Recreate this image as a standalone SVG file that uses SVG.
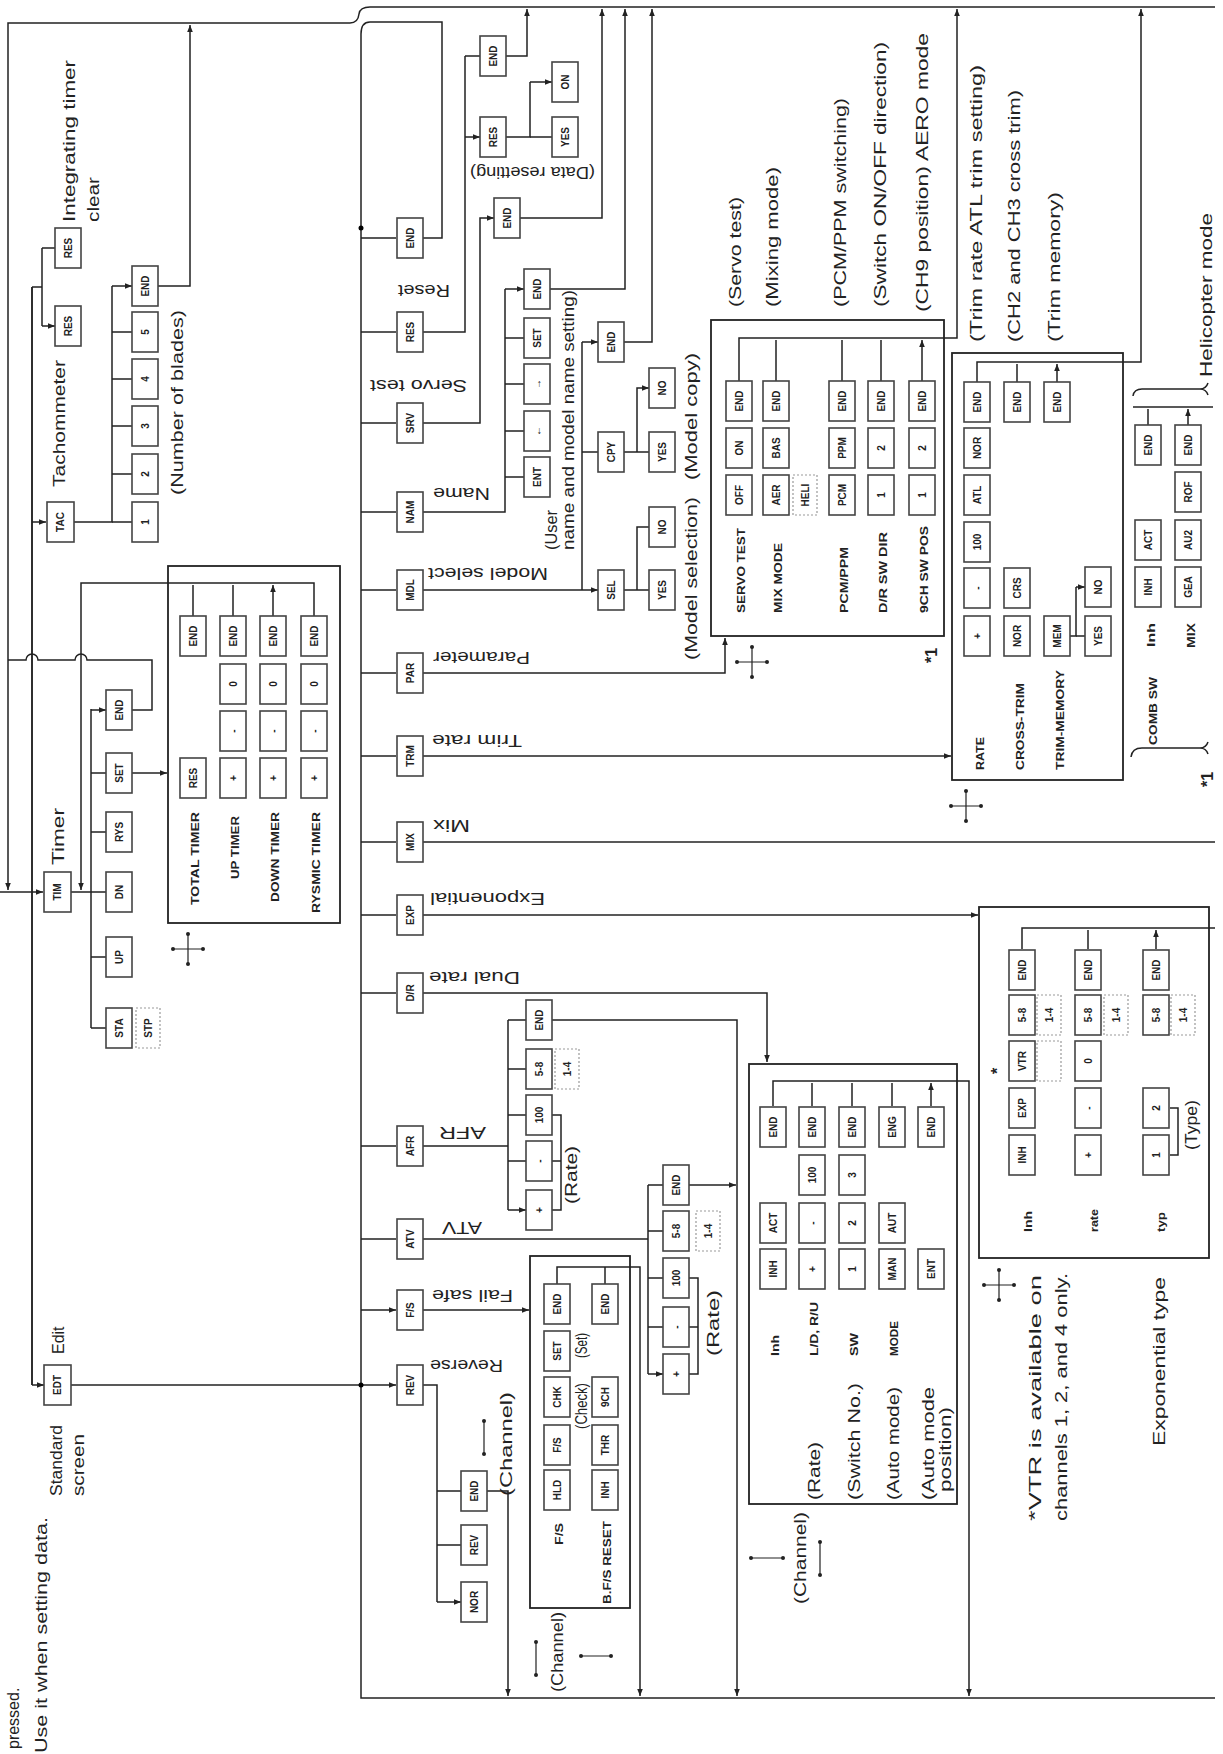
<svg xmlns="http://www.w3.org/2000/svg" width="1223" height="1754" viewBox="0 0 1223 1754">
<style>
.l{fill:none;stroke:#222;stroke-width:1.5}
.la{fill:none;stroke:#222;stroke-width:1.5;marker-end:url(#a)}
.bx rect,rect.bx{fill:#fff;stroke:#444;stroke-width:1.6}
rect.d{fill:none;stroke:#999;stroke-width:1.2;stroke-dasharray:2 2}
rect.p{fill:none;stroke:#222;stroke-width:1.8}
.bt{font-family:"Liberation Sans Narrow","Liberation Sans",sans-serif;font-weight:bold;font-size:10px;text-anchor:middle;dominant-baseline:central;fill:#222}
.t{font-family:"Liberation Sans",sans-serif;font-size:16px;fill:#222}
.s{font-family:"Liberation Sans Narrow","Liberation Sans",sans-serif;font-weight:bold;font-size:11px;fill:#222}
.cr{fill:none;stroke:#222;stroke-width:1.2}
</style>
<defs>
<marker id="a" viewBox="0 0 10 10" refX="10" refY="5" markerWidth="8" markerHeight="7" markerUnits="userSpaceOnUse" orient="auto"><path d="M0,1L10,5L0,9z" fill="#222"/></marker>
<g id="cross"><path class="cr" d="M-15,0H15M0,-15V15"/><circle cx="-15" cy="0" r="2"/><circle cx="15" cy="0" r="2"/><circle cx="0" cy="-15" r="2"/><circle cx="0" cy="15" r="2"/></g>
</defs>
<rect width="1223" height="1754" fill="#fff"/>

<g id="connectors">
<path class="la" d="M350,23H8V890"/>
<path class="l" d="M350,23Q358,23 359,14Q360,7 370,7H1215"/>
<path class="l" d="M423,238H442V22H370Q361,22 361,34V1698H1215"/>
<path class="la" d="M361,238H396M361,332H396M361,423H396M361,512H396M361,590H396M361,673H396M361,756H396M361,842H396M361,915H396M361,993H396M361,1146H396M361,1239H396M361,1310H396"/>
<path class="la" d="M71,1385H396"/>
<circle cx="361" cy="228" r="2.5"/><circle cx="361" cy="1385" r="2.5"/>
<path class="la" d="M32,1385V287M32,1385H44"/>
<path class="l" d="M32,287V1385"/>
<path class="la" d="M0,892H43"/>
<path class="l" d="M71,892H91M91,709V1028"/>
<path class="la" d="M91,1028H106M91,957H106M91,892H106M91,832H106M91,773H106M91,710H106"/>
<path class="la" d="M132,773H167"/>
<path class="l" d="M132,710H152V660H87A6,6 0 0 0 75,660H38A6,6 0 0 0 26,660H8"/>
<path class="la" d="M314,616V583H81V890"/>
<path class="la" d="M193,616V585M233,616V585M273,616V585"/>
<path class="la" d="M32,522H46"/>
<path class="l" d="M74,522H112V286"/>
<path class="la" d="M112,522H132M112,474H132M112,426H132M112,379H132M112,332H132M112,286H132"/>
<path class="la" d="M158,286H190V25"/>
<path class="l" d="M32,287H42M42,248V326"/>
<path class="la" d="M42,248H55M42,326H55"/>
<path class="l" d="M423,332H465V56"/>
<path class="la" d="M465,56H480M465,137H480"/>
<path class="l" d="M506,137H530V82"/>
<path class="la" d="M530,137H552M530,82H552"/>
<path class="la" d="M506,56H527V9"/>
<path class="la" d="M423,423H480V218H494"/>
<path class="la" d="M520,218H602V9"/>
<path class="l" d="M423,512H505V289"/>
<path class="la" d="M505,477H524M505,431H524M505,384H524M505,338H524M505,289H524"/>
<path class="la" d="M550,289H625V9"/>
<path class="la" d="M423,590H598"/>
<path class="l" d="M582,590V342"/>
<path class="la" d="M582,452H598M582,342H598"/>
<path class="la" d="M624,342H652V9"/>
<path class="la" d="M624,590H649M637,590V527H649M624,452H649M637,452V388H649"/>
<path class="la" d="M423,673H725V638"/>
<path class="la" d="M739,381V338H957V9"/>
<path class="la" d="M776,381V340M842,381V340M881,381V340M922,381V340"/>
<path class="la" d="M423,756H951"/>
<path class="la" d="M977,383V362H1141V9"/>
<path class="la" d="M1017,383V364M1057,383V364"/>
<path class="l" d="M1070,636H1076V587"/>
<path class="la" d="M1076,636H1085M1076,587H1085"/>
<path class="l" d="M1133,407H1213"/>
<path class="la" d="M1148,425V409M1188,425V409"/>
<path class="l" d="M423,842H1215"/>
<path class="la" d="M423,915H978"/>
<path class="l" d="M1022,949V928H1215"/>
<path class="la" d="M1088,949V930M1156,949V930"/>
<path class="la" d="M423,993H767V1062"/>
<path class="la" d="M773,1106V1081H969V1696"/>
<path class="la" d="M812,1106V1083M852,1106V1083M892,1106V1083M931,1106V1083"/>
<path class="l" d="M423,1146H508M508,1020V1210"/>
<path class="la" d="M508,1020H526M508,1069H526M508,1115H526M508,1161H526M508,1210H526"/>
<path class="la" d="M552,1020H737V1696"/>
<path class="l" d="M552,1210H561V1115H552M552,1161H561"/>
<path class="l" d="M423,1239H648M648,1185V1374"/>
<path class="la" d="M648,1185H663M648,1231H663M648,1278H663M648,1327H663M648,1374H663"/>
<path class="la" d="M689,1185H736"/>
<path class="l" d="M689,1374H698V1278H689M689,1327H698"/>
<path class="la" d="M423,1310H529"/>
<path class="la" d="M557,1284V1267H640V1696"/>
<path class="l" d="M605,1284V1267"/>
<path class="l" d="M423,1385H437V1602"/>
<path class="la" d="M437,1491H461M437,1545H461M437,1602H461"/>
<path class="la" d="M487,1491H508V1696"/>
<path class="l" d="M1170,1155H1178V1108H1170"/>
</g>

<g id="panels">
<rect class="p" x="168" y="566" width="172" height="357"/>
<rect class="p" x="711" y="320" width="233" height="316"/>
<rect class="p" x="952" y="353" width="171" height="427"/>
<rect class="p" x="979" y="907" width="230" height="351"/>
<rect class="p" x="749" y="1064" width="208" height="440"/>
<rect class="p" x="530" y="1256" width="100" height="352"/>
</g>

<g id="boxes">
<g id="n_end_reset" class="bx"><rect x="397" y="218" width="26" height="40"/><text class="bt" transform="translate(410,238) rotate(-90)">END</text></g>
<g id="n_res" class="bx"><rect x="397" y="312" width="26" height="40"/><text class="bt" transform="translate(410,332) rotate(-90)">RES</text></g>
<g id="n_srv" class="bx"><rect x="397" y="403" width="26" height="40"/><text class="bt" transform="translate(410,423) rotate(-90)">SRV</text></g>
<g id="n_nam" class="bx"><rect x="397" y="492" width="26" height="40"/><text class="bt" transform="translate(410,512) rotate(-90)">NAM</text></g>
<g id="n_mdl" class="bx"><rect x="397" y="570" width="26" height="40"/><text class="bt" transform="translate(410,590) rotate(-90)">MDL</text></g>
<g id="n_par" class="bx"><rect x="397" y="653" width="26" height="40"/><text class="bt" transform="translate(410,673) rotate(-90)">PAR</text></g>
<g id="n_trm" class="bx"><rect x="397" y="736" width="26" height="40"/><text class="bt" transform="translate(410,756) rotate(-90)">TRM</text></g>
<g id="n_mix" class="bx"><rect x="397" y="822" width="26" height="40"/><text class="bt" transform="translate(410,842) rotate(-90)">MIX</text></g>
<g id="n_exp" class="bx"><rect x="397" y="895" width="26" height="40"/><text class="bt" transform="translate(410,915) rotate(-90)">EXP</text></g>
<g id="n_dr" class="bx"><rect x="397" y="973" width="26" height="40"/><text class="bt" transform="translate(410,993) rotate(-90)">D/R</text></g>
<g id="n_afr" class="bx"><rect x="397" y="1126" width="26" height="40"/><text class="bt" transform="translate(410,1146) rotate(-90)">AFR</text></g>
<g id="n_atv" class="bx"><rect x="397" y="1219" width="26" height="40"/><text class="bt" transform="translate(410,1239) rotate(-90)">ATV</text></g>
<g id="n_fs" class="bx"><rect x="397" y="1290" width="26" height="40"/><text class="bt" transform="translate(410,1310) rotate(-90)">F/S</text></g>
<g id="n_rev" class="bx"><rect x="397" y="1365" width="26" height="40"/><text class="bt" transform="translate(410,1385) rotate(-90)">REV</text></g>
<g id="n_edt" class="bx"><rect x="44" y="1365" width="27" height="40"/><text class="bt" transform="translate(57,1385) rotate(-90)">EDT</text></g>
<g id="n_tim" class="bx"><rect x="44" y="872" width="27" height="40"/><text class="bt" transform="translate(57,892) rotate(-90)">TIM</text></g>
<g id="n_tac" class="bx"><rect x="47" y="502" width="27" height="40"/><text class="bt" transform="translate(60,522) rotate(-90)">TAC</text></g>
<g id="n_res1" class="bx"><rect x="55" y="228" width="26" height="40"/><text class="bt" transform="translate(68,248) rotate(-90)">RES</text></g>
<g id="n_res2" class="bx"><rect x="55" y="306" width="26" height="40"/><text class="bt" transform="translate(68,326) rotate(-90)">RES</text></g>
<g id="n_t1" class="bx"><rect x="132" y="502" width="26" height="40"/><text class="bt" transform="translate(145,522) rotate(-90)">1</text></g>
<g id="n_t2" class="bx"><rect x="132" y="454" width="26" height="40"/><text class="bt" transform="translate(145,474) rotate(-90)">2</text></g>
<g id="n_t3" class="bx"><rect x="132" y="406" width="26" height="40"/><text class="bt" transform="translate(145,426) rotate(-90)">3</text></g>
<g id="n_t4" class="bx"><rect x="132" y="359" width="26" height="40"/><text class="bt" transform="translate(145,379) rotate(-90)">4</text></g>
<g id="n_t5" class="bx"><rect x="132" y="312" width="26" height="40"/><text class="bt" transform="translate(145,332) rotate(-90)">5</text></g>
<g id="n_tend" class="bx"><rect x="132" y="266" width="26" height="40"/><text class="bt" transform="translate(145,286) rotate(-90)">END</text></g>
<g id="n_sta" class="bx"><rect x="106" y="1008" width="26" height="40"/><text class="bt" transform="translate(119,1028) rotate(-90)">STA</text></g>
<g id="n_stp"><rect class="d" x="136" y="1008" width="24" height="40"/><text class="bt" transform="translate(148,1028) rotate(-90)">STP</text></g>
<g id="n_up" class="bx"><rect x="106" y="937" width="26" height="40"/><text class="bt" transform="translate(119,957) rotate(-90)">UP</text></g>
<g id="n_dn" class="bx"><rect x="106" y="872" width="26" height="40"/><text class="bt" transform="translate(119,892) rotate(-90)">DN</text></g>
<g id="n_rys" class="bx"><rect x="106" y="812" width="26" height="40"/><text class="bt" transform="translate(119,832) rotate(-90)">RYS</text></g>
<g id="n_set" class="bx"><rect x="106" y="753" width="26" height="40"/><text class="bt" transform="translate(119,773) rotate(-90)">SET</text></g>
<g id="n_timend" class="bx"><rect x="106" y="690" width="26" height="40"/><text class="bt" transform="translate(119,710) rotate(-90)">END</text></g>
<g id="n_tt_res" class="bx"><rect x="180" y="758" width="26" height="40"/><text class="bt" transform="translate(193,778) rotate(-90)">RES</text></g>
<g id="n_tt_end" class="bx"><rect x="180" y="616" width="26" height="40"/><text class="bt" transform="translate(193,636) rotate(-90)">END</text></g>
<g id="n_ut_p" class="bx"><rect x="220" y="758" width="26" height="40"/><text class="bt" transform="translate(233,778) rotate(-90)">+</text></g>
<g id="n_ut_m" class="bx"><rect x="220" y="711" width="26" height="40"/><text class="bt" transform="translate(233,731) rotate(-90)">-</text></g>
<g id="n_ut_0" class="bx"><rect x="220" y="664" width="26" height="40"/><text class="bt" transform="translate(233,684) rotate(-90)">0</text></g>
<g id="n_ut_e" class="bx"><rect x="220" y="616" width="26" height="40"/><text class="bt" transform="translate(233,636) rotate(-90)">END</text></g>
<g id="n_dt_p" class="bx"><rect x="260" y="758" width="26" height="40"/><text class="bt" transform="translate(273,778) rotate(-90)">+</text></g>
<g id="n_dt_m" class="bx"><rect x="260" y="711" width="26" height="40"/><text class="bt" transform="translate(273,731) rotate(-90)">-</text></g>
<g id="n_dt_0" class="bx"><rect x="260" y="664" width="26" height="40"/><text class="bt" transform="translate(273,684) rotate(-90)">0</text></g>
<g id="n_dt_e" class="bx"><rect x="260" y="616" width="26" height="40"/><text class="bt" transform="translate(273,636) rotate(-90)">END</text></g>
<g id="n_rt_p" class="bx"><rect x="301" y="758" width="26" height="40"/><text class="bt" transform="translate(314,778) rotate(-90)">+</text></g>
<g id="n_rt_m" class="bx"><rect x="301" y="711" width="26" height="40"/><text class="bt" transform="translate(314,731) rotate(-90)">-</text></g>
<g id="n_rt_0" class="bx"><rect x="301" y="664" width="26" height="40"/><text class="bt" transform="translate(314,684) rotate(-90)">0</text></g>
<g id="n_rt_e" class="bx"><rect x="301" y="616" width="26" height="40"/><text class="bt" transform="translate(314,636) rotate(-90)">END</text></g>
<g id="n_rs_end" class="bx"><rect x="480" y="36" width="26" height="40"/><text class="bt" transform="translate(493,56) rotate(-90)">END</text></g>
<g id="n_rs_res" class="bx"><rect x="480" y="117" width="26" height="40"/><text class="bt" transform="translate(493,137) rotate(-90)">RES</text></g>
<g id="n_rs_yes" class="bx"><rect x="552" y="117" width="26" height="40"/><text class="bt" transform="translate(565,137) rotate(-90)">YES</text></g>
<g id="n_rs_on" class="bx"><rect x="552" y="62" width="26" height="40"/><text class="bt" transform="translate(565,82) rotate(-90)">ON</text></g>
<g id="n_srv_end" class="bx"><rect x="494" y="198" width="26" height="40"/><text class="bt" transform="translate(507,218) rotate(-90)">END</text></g>
<g id="n_nm_ent" class="bx"><rect x="524" y="457" width="26" height="40"/><text class="bt" transform="translate(537,477) rotate(-90)">ENT</text></g>
<g id="n_nm_l" class="bx"><rect x="524" y="411" width="26" height="40"/><text class="bt" transform="translate(537,431) rotate(-90)">←</text></g>
<g id="n_nm_r" class="bx"><rect x="524" y="364" width="26" height="40"/><text class="bt" transform="translate(537,384) rotate(-90)">→</text></g>
<g id="n_nm_set" class="bx"><rect x="524" y="318" width="26" height="40"/><text class="bt" transform="translate(537,338) rotate(-90)">SET</text></g>
<g id="n_nm_end" class="bx"><rect x="524" y="269" width="26" height="40"/><text class="bt" transform="translate(537,289) rotate(-90)">END</text></g>
<g id="n_sel" class="bx"><rect x="598" y="570" width="26" height="40"/><text class="bt" transform="translate(611,590) rotate(-90)">SEL</text></g>
<g id="n_cpy" class="bx"><rect x="598" y="432" width="26" height="40"/><text class="bt" transform="translate(611,452) rotate(-90)">CPY</text></g>
<g id="n_md_end" class="bx"><rect x="598" y="322" width="26" height="40"/><text class="bt" transform="translate(611,342) rotate(-90)">END</text></g>
<g id="n_sel_yes" class="bx"><rect x="649" y="570" width="26" height="40"/><text class="bt" transform="translate(662,590) rotate(-90)">YES</text></g>
<g id="n_sel_no" class="bx"><rect x="649" y="507" width="26" height="40"/><text class="bt" transform="translate(662,527) rotate(-90)">NO</text></g>
<g id="n_cpy_yes" class="bx"><rect x="649" y="432" width="26" height="40"/><text class="bt" transform="translate(662,452) rotate(-90)">YES</text></g>
<g id="n_cpy_no" class="bx"><rect x="649" y="368" width="26" height="40"/><text class="bt" transform="translate(662,388) rotate(-90)">NO</text></g>
<!-- panel 1 -->
<g id="n_p1_off" class="bx"><rect x="726" y="475" width="26" height="40"/><text class="bt" transform="translate(739,495) rotate(-90)">OFF</text></g>
<g id="n_p1_on" class="bx"><rect x="726" y="428" width="26" height="40"/><text class="bt" transform="translate(739,448) rotate(-90)">ON</text></g>
<g id="n_p1_e1" class="bx"><rect x="726" y="381" width="26" height="40"/><text class="bt" transform="translate(739,401) rotate(-90)">END</text></g>
<g id="n_p1_aer" class="bx"><rect x="763" y="475" width="26" height="40"/><text class="bt" transform="translate(776,495) rotate(-90)">AER</text></g>
<g id="n_p1_heli"><rect class="d" x="793" y="475" width="24" height="40"/><text class="bt" transform="translate(805,495) rotate(-90)">HELI</text></g>
<g id="n_p1_bas" class="bx"><rect x="763" y="428" width="26" height="40"/><text class="bt" transform="translate(776,448) rotate(-90)">BAS</text></g>
<g id="n_p1_e2" class="bx"><rect x="763" y="381" width="26" height="40"/><text class="bt" transform="translate(776,401) rotate(-90)">END</text></g>
<g id="n_p1_pcm" class="bx"><rect x="829" y="475" width="26" height="40"/><text class="bt" transform="translate(842,495) rotate(-90)">PCM</text></g>
<g id="n_p1_ppm" class="bx"><rect x="829" y="428" width="26" height="40"/><text class="bt" transform="translate(842,448) rotate(-90)">PPM</text></g>
<g id="n_p1_e3" class="bx"><rect x="829" y="381" width="26" height="40"/><text class="bt" transform="translate(842,401) rotate(-90)">END</text></g>
<g id="n_p1_d1" class="bx"><rect x="868" y="475" width="26" height="40"/><text class="bt" transform="translate(881,495) rotate(-90)">1</text></g>
<g id="n_p1_d2" class="bx"><rect x="868" y="428" width="26" height="40"/><text class="bt" transform="translate(881,448) rotate(-90)">2</text></g>
<g id="n_p1_e4" class="bx"><rect x="868" y="381" width="26" height="40"/><text class="bt" transform="translate(881,401) rotate(-90)">END</text></g>
<g id="n_p1_c1" class="bx"><rect x="909" y="475" width="26" height="40"/><text class="bt" transform="translate(922,495) rotate(-90)">1</text></g>
<g id="n_p1_c2" class="bx"><rect x="909" y="428" width="26" height="40"/><text class="bt" transform="translate(922,448) rotate(-90)">2</text></g>
<g id="n_p1_e5" class="bx"><rect x="909" y="381" width="26" height="40"/><text class="bt" transform="translate(922,401) rotate(-90)">END</text></g>
<!-- panel 2 -->
<g id="n_p2_p" class="bx"><rect x="964" y="616" width="26" height="40"/><text class="bt" transform="translate(977,636) rotate(-90)">+</text></g>
<g id="n_p2_m" class="bx"><rect x="964" y="568" width="26" height="40"/><text class="bt" transform="translate(977,588) rotate(-90)">-</text></g>
<g id="n_p2_100" class="bx"><rect x="964" y="522" width="26" height="40"/><text class="bt" transform="translate(977,542) rotate(-90)">100</text></g>
<g id="n_p2_atl" class="bx"><rect x="964" y="475" width="26" height="40"/><text class="bt" transform="translate(977,495) rotate(-90)">ATL</text></g>
<g id="n_p2_nor" class="bx"><rect x="964" y="428" width="26" height="40"/><text class="bt" transform="translate(977,448) rotate(-90)">NOR</text></g>
<g id="n_p2_e1" class="bx"><rect x="964" y="382" width="26" height="40"/><text class="bt" transform="translate(977,402) rotate(-90)">END</text></g>
<g id="n_p2_nor2" class="bx"><rect x="1004" y="616" width="26" height="40"/><text class="bt" transform="translate(1017,636) rotate(-90)">NOR</text></g>
<g id="n_p2_crs" class="bx"><rect x="1004" y="568" width="26" height="40"/><text class="bt" transform="translate(1017,588) rotate(-90)">CRS</text></g>
<g id="n_p2_e2" class="bx"><rect x="1004" y="382" width="26" height="40"/><text class="bt" transform="translate(1017,402) rotate(-90)">END</text></g>
<g id="n_p2_mem" class="bx"><rect x="1044" y="616" width="26" height="40"/><text class="bt" transform="translate(1057,636) rotate(-90)">MEM</text></g>
<g id="n_p2_e3" class="bx"><rect x="1044" y="382" width="26" height="40"/><text class="bt" transform="translate(1057,402) rotate(-90)">END</text></g>
<g id="n_p2_yes" class="bx"><rect x="1085" y="616" width="26" height="40"/><text class="bt" transform="translate(1098,636) rotate(-90)">YES</text></g>
<g id="n_p2_no" class="bx"><rect x="1085" y="567" width="26" height="40"/><text class="bt" transform="translate(1098,587) rotate(-90)">NO</text></g>
<!-- comb -->
<g id="n_cb_inh" class="bx"><rect x="1135" y="567" width="26" height="40"/><text class="bt" transform="translate(1148,587) rotate(-90)">INH</text></g>
<g id="n_cb_act" class="bx"><rect x="1135" y="520" width="26" height="40"/><text class="bt" transform="translate(1148,540) rotate(-90)">ACT</text></g>
<g id="n_cb_e1" class="bx"><rect x="1135" y="425" width="26" height="40"/><text class="bt" transform="translate(1148,445) rotate(-90)">END</text></g>
<g id="n_cb_gea" class="bx"><rect x="1175" y="567" width="26" height="40"/><text class="bt" transform="translate(1188,587) rotate(-90)">GEA</text></g>
<g id="n_cb_au2" class="bx"><rect x="1175" y="520" width="26" height="40"/><text class="bt" transform="translate(1188,540) rotate(-90)">AU2</text></g>
<g id="n_cb_rof" class="bx"><rect x="1175" y="472" width="26" height="40"/><text class="bt" transform="translate(1188,492) rotate(-90)">ROF</text></g>
<g id="n_cb_e2" class="bx"><rect x="1175" y="425" width="26" height="40"/><text class="bt" transform="translate(1188,445) rotate(-90)">END</text></g>
<!-- exp panel -->
<g id="n_ex_inh" class="bx"><rect x="1009" y="1135" width="26" height="40"/><text class="bt" transform="translate(1022,1155) rotate(-90)">INH</text></g>
<g id="n_ex_exp" class="bx"><rect x="1009" y="1088" width="26" height="40"/><text class="bt" transform="translate(1022,1108) rotate(-90)">EXP</text></g>
<g id="n_ex_vtr" class="bx"><rect x="1009" y="1041" width="26" height="40"/><text class="bt" transform="translate(1022,1061) rotate(-90)">VTR</text></g>
<g id="n_ex_58" class="bx"><rect x="1009" y="995" width="26" height="40"/><text class="bt" transform="translate(1022,1015) rotate(-90)">5-8</text></g>
<g id="n_ex_end" class="bx"><rect x="1009" y="950" width="26" height="40"/><text class="bt" transform="translate(1022,970) rotate(-90)">END</text></g>
<g id="n_ex_dash"><rect class="d" x="1037" y="1041" width="24" height="40"/></g>
<g id="n_ex_14"><rect class="d" x="1037" y="995" width="24" height="40"/><text class="bt" transform="translate(1049,1015) rotate(-90)">1-4</text></g>
<g id="n_er_p" class="bx"><rect x="1075" y="1135" width="26" height="40"/><text class="bt" transform="translate(1088,1155) rotate(-90)">+</text></g>
<g id="n_er_m" class="bx"><rect x="1075" y="1088" width="26" height="40"/><text class="bt" transform="translate(1088,1108) rotate(-90)">-</text></g>
<g id="n_er_0" class="bx"><rect x="1075" y="1041" width="26" height="40"/><text class="bt" transform="translate(1088,1061) rotate(-90)">0</text></g>
<g id="n_er_58" class="bx"><rect x="1075" y="995" width="26" height="40"/><text class="bt" transform="translate(1088,1015) rotate(-90)">5-8</text></g>
<g id="n_er_end" class="bx"><rect x="1075" y="950" width="26" height="40"/><text class="bt" transform="translate(1088,970) rotate(-90)">END</text></g>
<g id="n_er_14"><rect class="d" x="1104" y="995" width="24" height="40"/><text class="bt" transform="translate(1116,1015) rotate(-90)">1-4</text></g>
<g id="n_et_1" class="bx"><rect x="1143" y="1135" width="26" height="40"/><text class="bt" transform="translate(1156,1155) rotate(-90)">1</text></g>
<g id="n_et_2" class="bx"><rect x="1143" y="1088" width="26" height="40"/><text class="bt" transform="translate(1156,1108) rotate(-90)">2</text></g>
<g id="n_et_58" class="bx"><rect x="1143" y="995" width="26" height="40"/><text class="bt" transform="translate(1156,1015) rotate(-90)">5-8</text></g>
<g id="n_et_end" class="bx"><rect x="1143" y="950" width="26" height="40"/><text class="bt" transform="translate(1156,970) rotate(-90)">END</text></g>
<g id="n_et_14"><rect class="d" x="1171" y="995" width="24" height="40"/><text class="bt" transform="translate(1183,1015) rotate(-90)">1-4</text></g>
<!-- D/R panel -->
<g id="n_dp_inh" class="bx"><rect x="760" y="1249" width="26" height="40"/><text class="bt" transform="translate(773,1269) rotate(-90)">INH</text></g>
<g id="n_dp_act" class="bx"><rect x="760" y="1203" width="26" height="40"/><text class="bt" transform="translate(773,1223) rotate(-90)">ACT</text></g>
<g id="n_dp_e1" class="bx"><rect x="760" y="1107" width="26" height="40"/><text class="bt" transform="translate(773,1127) rotate(-90)">END</text></g>
<g id="n_dp_p" class="bx"><rect x="799" y="1249" width="26" height="40"/><text class="bt" transform="translate(812,1269) rotate(-90)">+</text></g>
<g id="n_dp_m" class="bx"><rect x="799" y="1203" width="26" height="40"/><text class="bt" transform="translate(812,1223) rotate(-90)">-</text></g>
<g id="n_dp_100" class="bx"><rect x="799" y="1155" width="26" height="40"/><text class="bt" transform="translate(812,1175) rotate(-90)">100</text></g>
<g id="n_dp_e2" class="bx"><rect x="799" y="1107" width="26" height="40"/><text class="bt" transform="translate(812,1127) rotate(-90)">END</text></g>
<g id="n_dp_1" class="bx"><rect x="839" y="1249" width="26" height="40"/><text class="bt" transform="translate(852,1269) rotate(-90)">1</text></g>
<g id="n_dp_2" class="bx"><rect x="839" y="1203" width="26" height="40"/><text class="bt" transform="translate(852,1223) rotate(-90)">2</text></g>
<g id="n_dp_3" class="bx"><rect x="839" y="1155" width="26" height="40"/><text class="bt" transform="translate(852,1175) rotate(-90)">3</text></g>
<g id="n_dp_e3" class="bx"><rect x="839" y="1107" width="26" height="40"/><text class="bt" transform="translate(852,1127) rotate(-90)">END</text></g>
<g id="n_dp_man" class="bx"><rect x="879" y="1249" width="26" height="40"/><text class="bt" transform="translate(892,1269) rotate(-90)">MAN</text></g>
<g id="n_dp_aut" class="bx"><rect x="879" y="1203" width="26" height="40"/><text class="bt" transform="translate(892,1223) rotate(-90)">AUT</text></g>
<g id="n_dp_eng" class="bx"><rect x="879" y="1107" width="26" height="40"/><text class="bt" transform="translate(892,1127) rotate(-90)">ENG</text></g>
<g id="n_dp_ent" class="bx"><rect x="918" y="1249" width="26" height="40"/><text class="bt" transform="translate(931,1269) rotate(-90)">ENT</text></g>
<g id="n_dp_e5" class="bx"><rect x="918" y="1107" width="26" height="40"/><text class="bt" transform="translate(931,1127) rotate(-90)">END</text></g>
<!-- AFR -->
<g id="n_af_p" class="bx"><rect x="526" y="1190" width="26" height="40"/><text class="bt" transform="translate(539,1210) rotate(-90)">+</text></g>
<g id="n_af_m" class="bx"><rect x="526" y="1141" width="26" height="40"/><text class="bt" transform="translate(539,1161) rotate(-90)">-</text></g>
<g id="n_af_100" class="bx"><rect x="526" y="1095" width="26" height="40"/><text class="bt" transform="translate(539,1115) rotate(-90)">100</text></g>
<g id="n_af_58" class="bx"><rect x="526" y="1049" width="26" height="40"/><text class="bt" transform="translate(539,1069) rotate(-90)">5-8</text></g>
<g id="n_af_end" class="bx"><rect x="526" y="1000" width="26" height="40"/><text class="bt" transform="translate(539,1020) rotate(-90)">END</text></g>
<g id="n_af_14"><rect class="d" x="555" y="1049" width="24" height="40"/><text class="bt" transform="translate(567,1069) rotate(-90)">1-4</text></g>
<!-- ATV -->
<g id="n_av_p" class="bx"><rect x="663" y="1354" width="26" height="40"/><text class="bt" transform="translate(676,1374) rotate(-90)">+</text></g>
<g id="n_av_m" class="bx"><rect x="663" y="1307" width="26" height="40"/><text class="bt" transform="translate(676,1327) rotate(-90)">-</text></g>
<g id="n_av_100" class="bx"><rect x="663" y="1258" width="26" height="40"/><text class="bt" transform="translate(676,1278) rotate(-90)">100</text></g>
<g id="n_av_58" class="bx"><rect x="663" y="1211" width="26" height="40"/><text class="bt" transform="translate(676,1231) rotate(-90)">5-8</text></g>
<g id="n_av_end" class="bx"><rect x="663" y="1165" width="26" height="40"/><text class="bt" transform="translate(676,1185) rotate(-90)">END</text></g>
<g id="n_av_14"><rect class="d" x="696" y="1211" width="24" height="40"/><text class="bt" transform="translate(708,1231) rotate(-90)">1-4</text></g>
<!-- F/S panel -->
<g id="n_fs_hld" class="bx"><rect x="544" y="1470" width="26" height="40"/><text class="bt" transform="translate(557,1490) rotate(-90)">HLD</text></g>
<g id="n_fs_fs" class="bx"><rect x="544" y="1425" width="26" height="40"/><text class="bt" transform="translate(557,1445) rotate(-90)">F/S</text></g>
<g id="n_fs_chk" class="bx"><rect x="544" y="1377" width="26" height="40"/><text class="bt" transform="translate(557,1397) rotate(-90)">CHK</text></g>
<g id="n_fs_set" class="bx"><rect x="544" y="1331" width="26" height="40"/><text class="bt" transform="translate(557,1351) rotate(-90)">SET</text></g>
<g id="n_fs_end" class="bx"><rect x="544" y="1284" width="26" height="40"/><text class="bt" transform="translate(557,1304) rotate(-90)">END</text></g>
<g id="n_bf_inh" class="bx"><rect x="592" y="1470" width="26" height="40"/><text class="bt" transform="translate(605,1490) rotate(-90)">INH</text></g>
<g id="n_bf_thr" class="bx"><rect x="592" y="1425" width="26" height="40"/><text class="bt" transform="translate(605,1445) rotate(-90)">THR</text></g>
<g id="n_bf_9ch" class="bx"><rect x="592" y="1377" width="26" height="40"/><text class="bt" transform="translate(605,1397) rotate(-90)">9CH</text></g>
<g id="n_bf_end" class="bx"><rect x="592" y="1284" width="26" height="40"/><text class="bt" transform="translate(605,1304) rotate(-90)">END</text></g>
<!-- REV -->
<g id="n_rv_nor" class="bx"><rect x="461" y="1582" width="26" height="40"/><text class="bt" transform="translate(474,1602) rotate(-90)">NOR</text></g>
<g id="n_rv_rev" class="bx"><rect x="461" y="1525" width="26" height="40"/><text class="bt" transform="translate(474,1545) rotate(-90)">REV</text></g>
<g id="n_rv_end" class="bx"><rect x="461" y="1471" width="26" height="40"/><text class="bt" transform="translate(474,1491) rotate(-90)">END</text></g>
</g>

<g id="labels">
<text class="t" font-size="19" transform="translate(19,1749) rotate(-90)">pressed.</text>
<text class="t" font-size="19" textLength="236" lengthAdjust="spacingAndGlyphs" transform="translate(47,1753) rotate(-90)">Use it when setting data.</text>
<text class="t" font-size="17" textLength="71" lengthAdjust="spacingAndGlyphs" transform="translate(62,1496) rotate(-90)">Standard</text>
<text class="t" font-size="17" textLength="62" lengthAdjust="spacingAndGlyphs" transform="translate(84,1496) rotate(-90)">screen</text>
<text class="t" font-size="17" transform="translate(64,1354) rotate(-90)">Edit</text>
<text class="t" font-size="17" textLength="57" lengthAdjust="spacingAndGlyphs" transform="translate(64,865) rotate(-90)">Timer</text>
<text class="t" font-size="17" textLength="127" lengthAdjust="spacingAndGlyphs" transform="translate(65,487) rotate(-90)">Tachommeter</text>
<text class="t" font-size="17" textLength="162" lengthAdjust="spacingAndGlyphs" transform="translate(75,222) rotate(-90)">Integrating timer</text>
<text class="t" font-size="17" textLength="45" lengthAdjust="spacingAndGlyphs" transform="translate(99,222) rotate(-90)">clear</text>
<text class="t" font-size="17" textLength="185" lengthAdjust="spacingAndGlyphs" transform="translate(183,495) rotate(-90)">(Number of blades)</text>
<text class="t" font-size="14" textLength="40" lengthAdjust="spacingAndGlyphs" transform="translate(557,550) rotate(-90)">(User</text>
<text class="t" font-size="14" textLength="260" lengthAdjust="spacingAndGlyphs" transform="translate(574,550) rotate(-90)">name and model name setting)</text>
<text class="t" font-size="16" textLength="163" lengthAdjust="spacingAndGlyphs" transform="translate(697,660) rotate(-90)">(Model selection)</text>
<text class="t" font-size="16" textLength="127" lengthAdjust="spacingAndGlyphs" transform="translate(697,480) rotate(-90)">(Model copy)</text>
<text class="t" font-size="17" textLength="110" lengthAdjust="spacingAndGlyphs" transform="translate(741,307) rotate(-90)">(Servo test)</text>
<text class="t" font-size="17" textLength="140" lengthAdjust="spacingAndGlyphs" transform="translate(778,307) rotate(-90)">(Mixing mode)</text>
<text class="t" font-size="17" textLength="209" lengthAdjust="spacingAndGlyphs" transform="translate(846,307) rotate(-90)">(PCM/PPM switching)</text>
<text class="t" font-size="17" textLength="265" lengthAdjust="spacingAndGlyphs" transform="translate(886,307) rotate(-90)">(Switch ON/OFF direction)</text>
<text class="t" font-size="17" textLength="279" lengthAdjust="spacingAndGlyphs" transform="translate(928,312) rotate(-90)">(CH9 position)  AERO mode</text>
<text class="t" font-size="17" textLength="277" lengthAdjust="spacingAndGlyphs" transform="translate(982,342) rotate(-90)">(Trim rate ATL trim setting)</text>
<text class="t" font-size="17" textLength="252" lengthAdjust="spacingAndGlyphs" transform="translate(1020,342) rotate(-90)">(CH2 and CH3 cross trim)</text>
<text class="t" font-size="17" textLength="150" lengthAdjust="spacingAndGlyphs" transform="translate(1060,342) rotate(-90)">(Trim memory)</text>
<text class="t" font-size="17" textLength="164" lengthAdjust="spacingAndGlyphs" transform="translate(1212,377) rotate(-90)">Helicopter mode</text>
<text class="s" textLength="85" lengthAdjust="spacingAndGlyphs" transform="translate(745,613) rotate(-90)">SERVO TEST</text>
<text class="s" textLength="70" lengthAdjust="spacingAndGlyphs" transform="translate(782,613) rotate(-90)">MIX MODE</text>
<text class="s" textLength="66" lengthAdjust="spacingAndGlyphs" transform="translate(848,613) rotate(-90)">PCM/PPM</text>
<text class="s" textLength="81" lengthAdjust="spacingAndGlyphs" transform="translate(887,613) rotate(-90)">D/R SW DIR</text>
<text class="s" textLength="87" lengthAdjust="spacingAndGlyphs" transform="translate(928,613) rotate(-90)">9CH SW POS</text>
<text class="s" textLength="33" lengthAdjust="spacingAndGlyphs" transform="translate(984,770) rotate(-90)">RATE</text>
<text class="s" textLength="87" lengthAdjust="spacingAndGlyphs" transform="translate(1024,770) rotate(-90)">CROSS-TRIM</text>
<text class="s" textLength="100" lengthAdjust="spacingAndGlyphs" transform="translate(1064,770) rotate(-90)">TRIM-MEMORY</text>
<text class="s" textLength="68" lengthAdjust="spacingAndGlyphs" transform="translate(1157,745) rotate(-90)">COMB SW</text>
<text class="s" textLength="24" lengthAdjust="spacingAndGlyphs" transform="translate(1155,647) rotate(-90)">Inh</text>
<text class="s" textLength="25" lengthAdjust="spacingAndGlyphs" transform="translate(1195,648) rotate(-90)">MIX</text>
<text class="s" textLength="93" lengthAdjust="spacingAndGlyphs" transform="translate(199,905) rotate(-90)">TOTAL TIMER</text>
<text class="s" textLength="63" lengthAdjust="spacingAndGlyphs" transform="translate(239,879) rotate(-90)">UP TIMER</text>
<text class="s" textLength="90" lengthAdjust="spacingAndGlyphs" transform="translate(279,902) rotate(-90)">DOWN TIMER</text>
<text class="s" textLength="101" lengthAdjust="spacingAndGlyphs" transform="translate(320,913) rotate(-90)">RYSMIC TIMER</text>
<text class="s" textLength="21" lengthAdjust="spacingAndGlyphs" transform="translate(779,1356) rotate(-90)">Inh</text>
<text class="s" textLength="54" lengthAdjust="spacingAndGlyphs" transform="translate(818,1356) rotate(-90)">L/D, R/U</text>
<text class="s" textLength="23" lengthAdjust="spacingAndGlyphs" transform="translate(858,1356) rotate(-90)">SW</text>
<text class="s" textLength="35" lengthAdjust="spacingAndGlyphs" transform="translate(898,1356) rotate(-90)">MODE</text>
<text class="t" font-size="17" textLength="58" lengthAdjust="spacingAndGlyphs" transform="translate(820,1500) rotate(-90)">(Rate)</text>
<text class="t" font-size="17" textLength="117" lengthAdjust="spacingAndGlyphs" transform="translate(860,1500) rotate(-90)">(Switch No.)</text>
<text class="t" font-size="17" textLength="113" lengthAdjust="spacingAndGlyphs" transform="translate(899,1500) rotate(-90)">(Auto mode)</text>
<text class="t" font-size="17" textLength="113" lengthAdjust="spacingAndGlyphs" transform="translate(934,1500) rotate(-90)">(Auto mode</text>
<text class="t" font-size="17" textLength="85" lengthAdjust="spacingAndGlyphs" transform="translate(951,1492) rotate(-90)">position)</text>
<text class="t" font-size="17" textLength="92" lengthAdjust="spacingAndGlyphs" transform="translate(806,1604) rotate(-90)">(Channel)</text>
<text class="s" textLength="22" lengthAdjust="spacingAndGlyphs" transform="translate(563,1545) rotate(-90)">F/S</text>
<text class="s" textLength="83" lengthAdjust="spacingAndGlyphs" transform="translate(611,1604) rotate(-90)">B.F/S RESET</text>
<text class="t" font-size="14" textLength="46" lengthAdjust="spacingAndGlyphs" transform="translate(587,1429) rotate(-90)">(Check)</text>
<text class="t" font-size="14" textLength="25" lengthAdjust="spacingAndGlyphs" transform="translate(587,1358) rotate(-90)">(Set)</text>
<text class="t" font-size="15" textLength="80" lengthAdjust="spacingAndGlyphs" transform="translate(563,1692) rotate(-90)">(Channel)</text>
<text class="t" font-size="17" textLength="104" lengthAdjust="spacingAndGlyphs" transform="translate(512,1496) rotate(-90)">(Channel)</text>
<text class="t" font-size="16" textLength="58" lengthAdjust="spacingAndGlyphs" transform="translate(577,1204) rotate(-90)">(Rate)</text>
<text class="t" font-size="17" textLength="66" lengthAdjust="spacingAndGlyphs" transform="translate(719,1356) rotate(-90)">(Rate)</text>
<text class="s" textLength="21" lengthAdjust="spacingAndGlyphs" transform="translate(1032,1232) rotate(-90)">Inh</text>
<text class="s" textLength="23" lengthAdjust="spacingAndGlyphs" transform="translate(1098,1232) rotate(-90)">rate</text>
<text class="s" textLength="20" lengthAdjust="spacingAndGlyphs" transform="translate(1165,1232) rotate(-90)">typ</text>
<text class="t" font-size="16" textLength="50" lengthAdjust="spacingAndGlyphs" transform="translate(1197,1150) rotate(-90)">(Type)</text>
<text class="t" font-size="17" textLength="246" lengthAdjust="spacingAndGlyphs" transform="translate(1041,1521) rotate(-90)">*VTR is available on</text>
<text class="t" font-size="17" textLength="248" lengthAdjust="spacingAndGlyphs" transform="translate(1067,1521) rotate(-90)">channels 1, 2, and 4 only.</text>
<text class="t" font-size="17" textLength="169" lengthAdjust="spacingAndGlyphs" transform="translate(1165,1446) rotate(-90)">Exponential type</text>
<text class="t" font-size="14" font-weight="bold" transform="translate(937,663) rotate(-90)">*1</text>
<text class="t" font-size="14" font-weight="bold" transform="translate(1213,787) rotate(-90)">*1</text>
<text class="t" font-size="20" font-weight="bold" text-anchor="middle" transform="translate(1003,1071) rotate(-90)">*</text>
<!-- upside-down branch labels -->
<text class="t" font-size="15" textLength="52" lengthAdjust="spacingAndGlyphs" transform="translate(450,285) rotate(180)">Reset</text>
<text class="t" font-size="15" textLength="97" lengthAdjust="spacingAndGlyphs" transform="translate(467,380) rotate(180)">Servo test</text>
<text class="t" font-size="15" textLength="57" lengthAdjust="spacingAndGlyphs" transform="translate(490,488) rotate(180)">Name</text>
<text class="t" font-size="15" textLength="120" lengthAdjust="spacingAndGlyphs" transform="translate(548,568) rotate(180)">Model select</text>
<text class="t" font-size="15" textLength="97" lengthAdjust="spacingAndGlyphs" transform="translate(530,652) rotate(180)">Parameter</text>
<text class="t" font-size="15" textLength="90" lengthAdjust="spacingAndGlyphs" transform="translate(522,735) rotate(180)">Trim rate</text>
<text class="t" font-size="15" textLength="37" lengthAdjust="spacingAndGlyphs" transform="translate(470,820) rotate(180)">Mix</text>
<text class="t" font-size="15" textLength="115" lengthAdjust="spacingAndGlyphs" transform="translate(545,893) rotate(180)">Exponential</text>
<text class="t" font-size="15" textLength="91" lengthAdjust="spacingAndGlyphs" transform="translate(520,972) rotate(180)">Dual rate</text>
<text class="t" font-size="15" textLength="47" lengthAdjust="spacingAndGlyphs" transform="translate(486,1127) rotate(180)">AFR</text>
<text class="t" font-size="15" textLength="40" lengthAdjust="spacingAndGlyphs" transform="translate(482,1222) rotate(180)">ATV</text>
<text class="t" font-size="15" textLength="81" lengthAdjust="spacingAndGlyphs" transform="translate(513,1290) rotate(180)">Fail safe</text>
<text class="t" font-size="15" textLength="73" lengthAdjust="spacingAndGlyphs" transform="translate(503,1360) rotate(180)">Reverse</text>
<text class="t" font-size="13" textLength="125" lengthAdjust="spacingAndGlyphs" transform="translate(595,167) rotate(180)">(Data resetting)</text>
</g>

<g id="symbols" fill="#222">
<use href="#cross" x="188" y="949"/>
<use href="#cross" x="752" y="662"/>
<use href="#cross" x="966" y="806"/>
<use href="#cross" x="999" y="1285"/>
<path class="cr" d="M484,1421V1454M536,1642V1675M581,1656H611M751,1558H783M820,1542V1575"/>
<circle cx="484" cy="1421" r="2"/><circle cx="484" cy="1454" r="2"/>
<circle cx="536" cy="1642" r="2"/><circle cx="536" cy="1675" r="2"/>
<circle cx="581" cy="1656" r="2"/><circle cx="611" cy="1656" r="2"/>
<circle cx="751" cy="1558" r="2"/><circle cx="783" cy="1558" r="2"/>
<circle cx="820" cy="1542" r="2"/><circle cx="820" cy="1575" r="2"/>
<path class="l" d="M1131,757Q1132,748 1142,748H1200Q1206,748 1208,742M1208,754Q1206,748 1200,748"/>
<path class="l" d="M1133,396Q1134,389 1142,389H1200Q1206,389 1208,383M1208,395Q1206,389 1200,389"/>
</g>
</svg>
